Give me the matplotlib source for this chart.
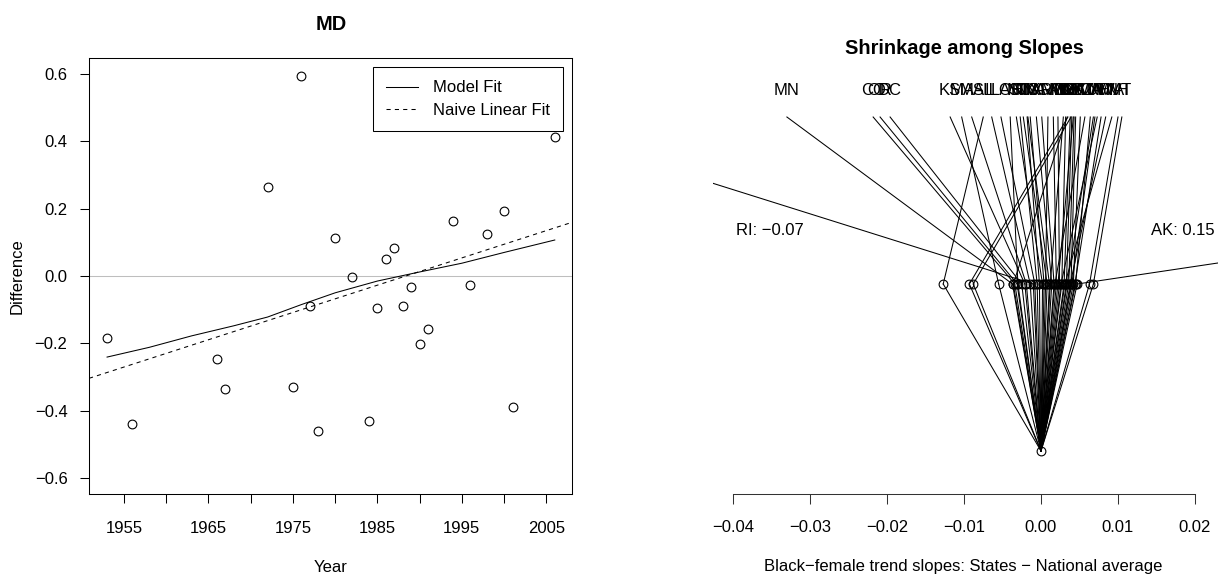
import matplotlib.pyplot as plt

plt.rcParams['font.family'] = ['Liberation Sans', 'DejaVu Sans']
plt.rcParams['font.size'] = 12

# --- left panel: MD differences by year
years = [1953, 1956, 1966, 1967, 1972, 1975, 1976, 1977, 1978, 1980, 1982, 1984, 1985,
         1986, 1987, 1988, 1989, 1990, 1991, 1993, 1994, 1996, 1998, 2000, 2001, 2006]
diffs = [-0.183, -0.440, -0.248, -0.335, 0.266, -0.331, 0.594, -0.090, -0.460, 0.113, -0.003,
         -0.431, -0.094, 0.052, 0.082, -0.088, -0.034, -0.203, -0.158, 0.478, 0.164, -0.028,
         0.125, 0.192, -0.389, 0.414]

fit_years = [1953, 1958, 1963, 1968, 1972, 1976, 1980, 1985, 1990, 1995, 2000, 2006]
fit_vals = [-0.241, -0.212, -0.178, -0.148, -0.122, -0.085, -0.050, -0.015, 0.012, 0.038, 0.070, 0.107]

naive_at_1985 = -0.0273
naive_slope = 0.00811

# --- right panel: state slopes (raw estimate, shrunk estimate)
states = ["MN", "CO", "OR", "DC", "KS", "MA", "MS", "AL", "IL", "LA", "OH", "NJ", "SC",
          "NY", "TN", "NC", "TX", "VA", "AR", "GA", "MD", "MI", "MO", "NE", "IN", "WI",
          "KY", "DE", "CT", "OK", "NV", "PA", "FL", "AZ", "CA", "WV", "IA", "UT", "NM",
          "HI", "WA", "NH", "VT", "RI", "AK"]
raw_slopes = [-0.0330, -0.0218, -0.0209, -0.0196, -0.0118, -0.0103, -0.0090, -0.0075, -0.0064,
              -0.0052, -0.0040, -0.0032, -0.0027, -0.0023, -0.0018, -0.0017, -0.0014, -0.0006,
              0.0001, 0.0009, 0.0016, 0.0022, 0.0029, 0.0032, 0.0034, 0.0035, 0.0038, 0.0039,
              0.0040, 0.0042, 0.0043, 0.0045, 0.0051, 0.0057, 0.0064, 0.0068, 0.0070, 0.0073,
              0.0078, 0.0084, 0.0092, 0.0100, 0.0105, -0.07, 0.15]
shrunk_slopes = [-0.0037, -0.0034, -0.0031, -0.0025, -0.0021, -0.0055, -0.0019, -0.0127, -0.0014,
                 -0.0008, -0.0030, 0.0002, -0.0005, 0.0008, -0.0002, 0.0011, 0.0004, 0.0014,
                 0.0017, 0.0006, 0.0020, 0.0024, 0.0012, 0.0027, -0.0036, -0.0093, 0.0030, -0.0088,
                 0.0033, 0.0022, 0.0036, 0.0039, 0.0042, 0.0018, 0.0045, 0.0034, 0.0040, 0.0026,
                 0.0044, 0.0038, 0.0031, 0.0063, 0.0068, -0.0010, 0.0047]
national_avg = 0.0

W, H = 1218, 582
fig = plt.figure(figsize=(W / 100, H / 100), dpi=100)


def px_axes(x0, y0, x1, y1):
    return fig.add_axes([x0 / W, 1 - y1 / H, (x1 - x0) / W, (y1 - y0) / H])


lw = 0.75

# ---------------- left panel ----------------
ax1 = px_axes(89, 58, 572, 494)
ax1.set_xlim(1950.86, 2008.04)
ax1.set_ylim(-0.648, 0.648)
ax1.axhline(0, color='#bebebe', lw=lw, zorder=1)
ax1.plot(years, diffs, 'o', mfc='none', mec='black', ms=6.3, mew=0.8, zorder=3)
ax1.plot(fit_years, fit_vals, color='black', lw=lw, label='Model Fit')
ax1.axline((1985, naive_at_1985), slope=naive_slope, color='black', lw=lw,
           ls=(0, (4, 4)), label='Naive Linear Fit')

xt = list(range(1955, 2006, 5))
ax1.set_xticks(xt)
ax1.set_xticklabels([str(y) if (y - 1955) % 10 == 0 else '' for y in xt])
yt = [-0.6, -0.4, -0.2, 0.0, 0.2, 0.4, 0.6]
ax1.set_yticks(yt)
ax1.set_yticklabels([f"{v:.1f}".replace('-', '\u2212') for v in yt])
ax1.tick_params(axis='x', direction='out', length=6.5, width=lw, pad=13)
ax1.tick_params(axis='y', direction='out', length=6.5, width=lw, pad=9)
for sp in ax1.spines.values():
    sp.set_linewidth(lw)

leg = ax1.legend(loc='upper right', bbox_to_anchor=((563 - 89) / 483, (494 - 67) / 436),
                 borderaxespad=0, fancybox=False, edgecolor='black', framealpha=1,
                 handlelength=1.9, handletextpad=0.9, borderpad=0.8, labelspacing=0.45)
leg.get_frame().set_linewidth(lw)

# ---------------- right panel ----------------
ax2 = px_axes(713, 58, 1218, 494)
ax2.set_xlim(-0.042597, 0.022987)
ax2.set_ylim(-0.2575, 2.3533)
top, mid, bot = 2.0, 1.0, 0.0

for r, s in zip(raw_slopes, shrunk_slopes):
    ax2.plot([r, s], [top, mid], color='black', lw=lw)
    ax2.plot([s, national_avg], [mid, bot], color='black', lw=lw)
ax2.plot(shrunk_slopes, [mid] * len(shrunk_slopes), 'o', mfc='none', mec='black', ms=6.3, mew=0.8)
ax2.plot([national_avg], [bot], 'o', mfc='none', mec='black', ms=6.3, mew=0.8)

# state labels above the raw estimates (those off the panel are not shown)
x_lo, x_hi = ax2.get_xlim()
for st, r in zip(states, raw_slopes):
    if x_lo + 0.001 < r < x_hi - 0.001:
        ax2.text(r, 2.16, st, ha='center', va='center')

ri = raw_slopes[states.index("RI")]
ak = raw_slopes[states.index("AK")]
ax2.text(-0.0352, 1.32, f"RI: {ri:.2f}".replace('-', '\u2212'), ha='center', va='center')
ax2.text(0.0184, 1.32, f"AK: {ak:.2f}", ha='center', va='center')

for k in ['top', 'left', 'right']:
    ax2.spines[k].set_visible(False)
ax2.spines['bottom'].set_bounds(-0.04, 0.02)
ax2.spines['bottom'].set_linewidth(lw)
ax2.spines['bottom'].set_color('#333333')
xt2 = [-0.04, -0.03, -0.02, -0.01, 0.0, 0.01, 0.02]
ax2.set_xticks(xt2)
ax2.set_xticklabels([f"{v:.2f}".replace('-', '\u2212') for v in xt2])
ax2.set_yticks([])
ax2.tick_params(axis='x', direction='out', length=7, width=lw, pad=12, color='#333333')

# ---------------- texts ----------------
fig.text(331 / W, 1 - 24 / H, 'MD', ha='center', va='center', fontsize=14.4, fontweight='bold')
fig.text(964 / W, 1 - 49 / H, 'Shrinkage among Slopes', ha='center', va='center',
         fontsize=14.4, fontweight='bold')
fig.text(331 / W, 1 - 568 / H, 'Year', ha='center', va='center')
fig.text(17 / W, 1 - 276 / H, 'Difference', ha='center', va='center', rotation=90)
fig.text(963 / W, 1 - 567 / H, 'Black\u2212female trend slopes: States \u2212 National average',
         ha='center', va='center')

fig.savefig('out.png', dpi=100)
